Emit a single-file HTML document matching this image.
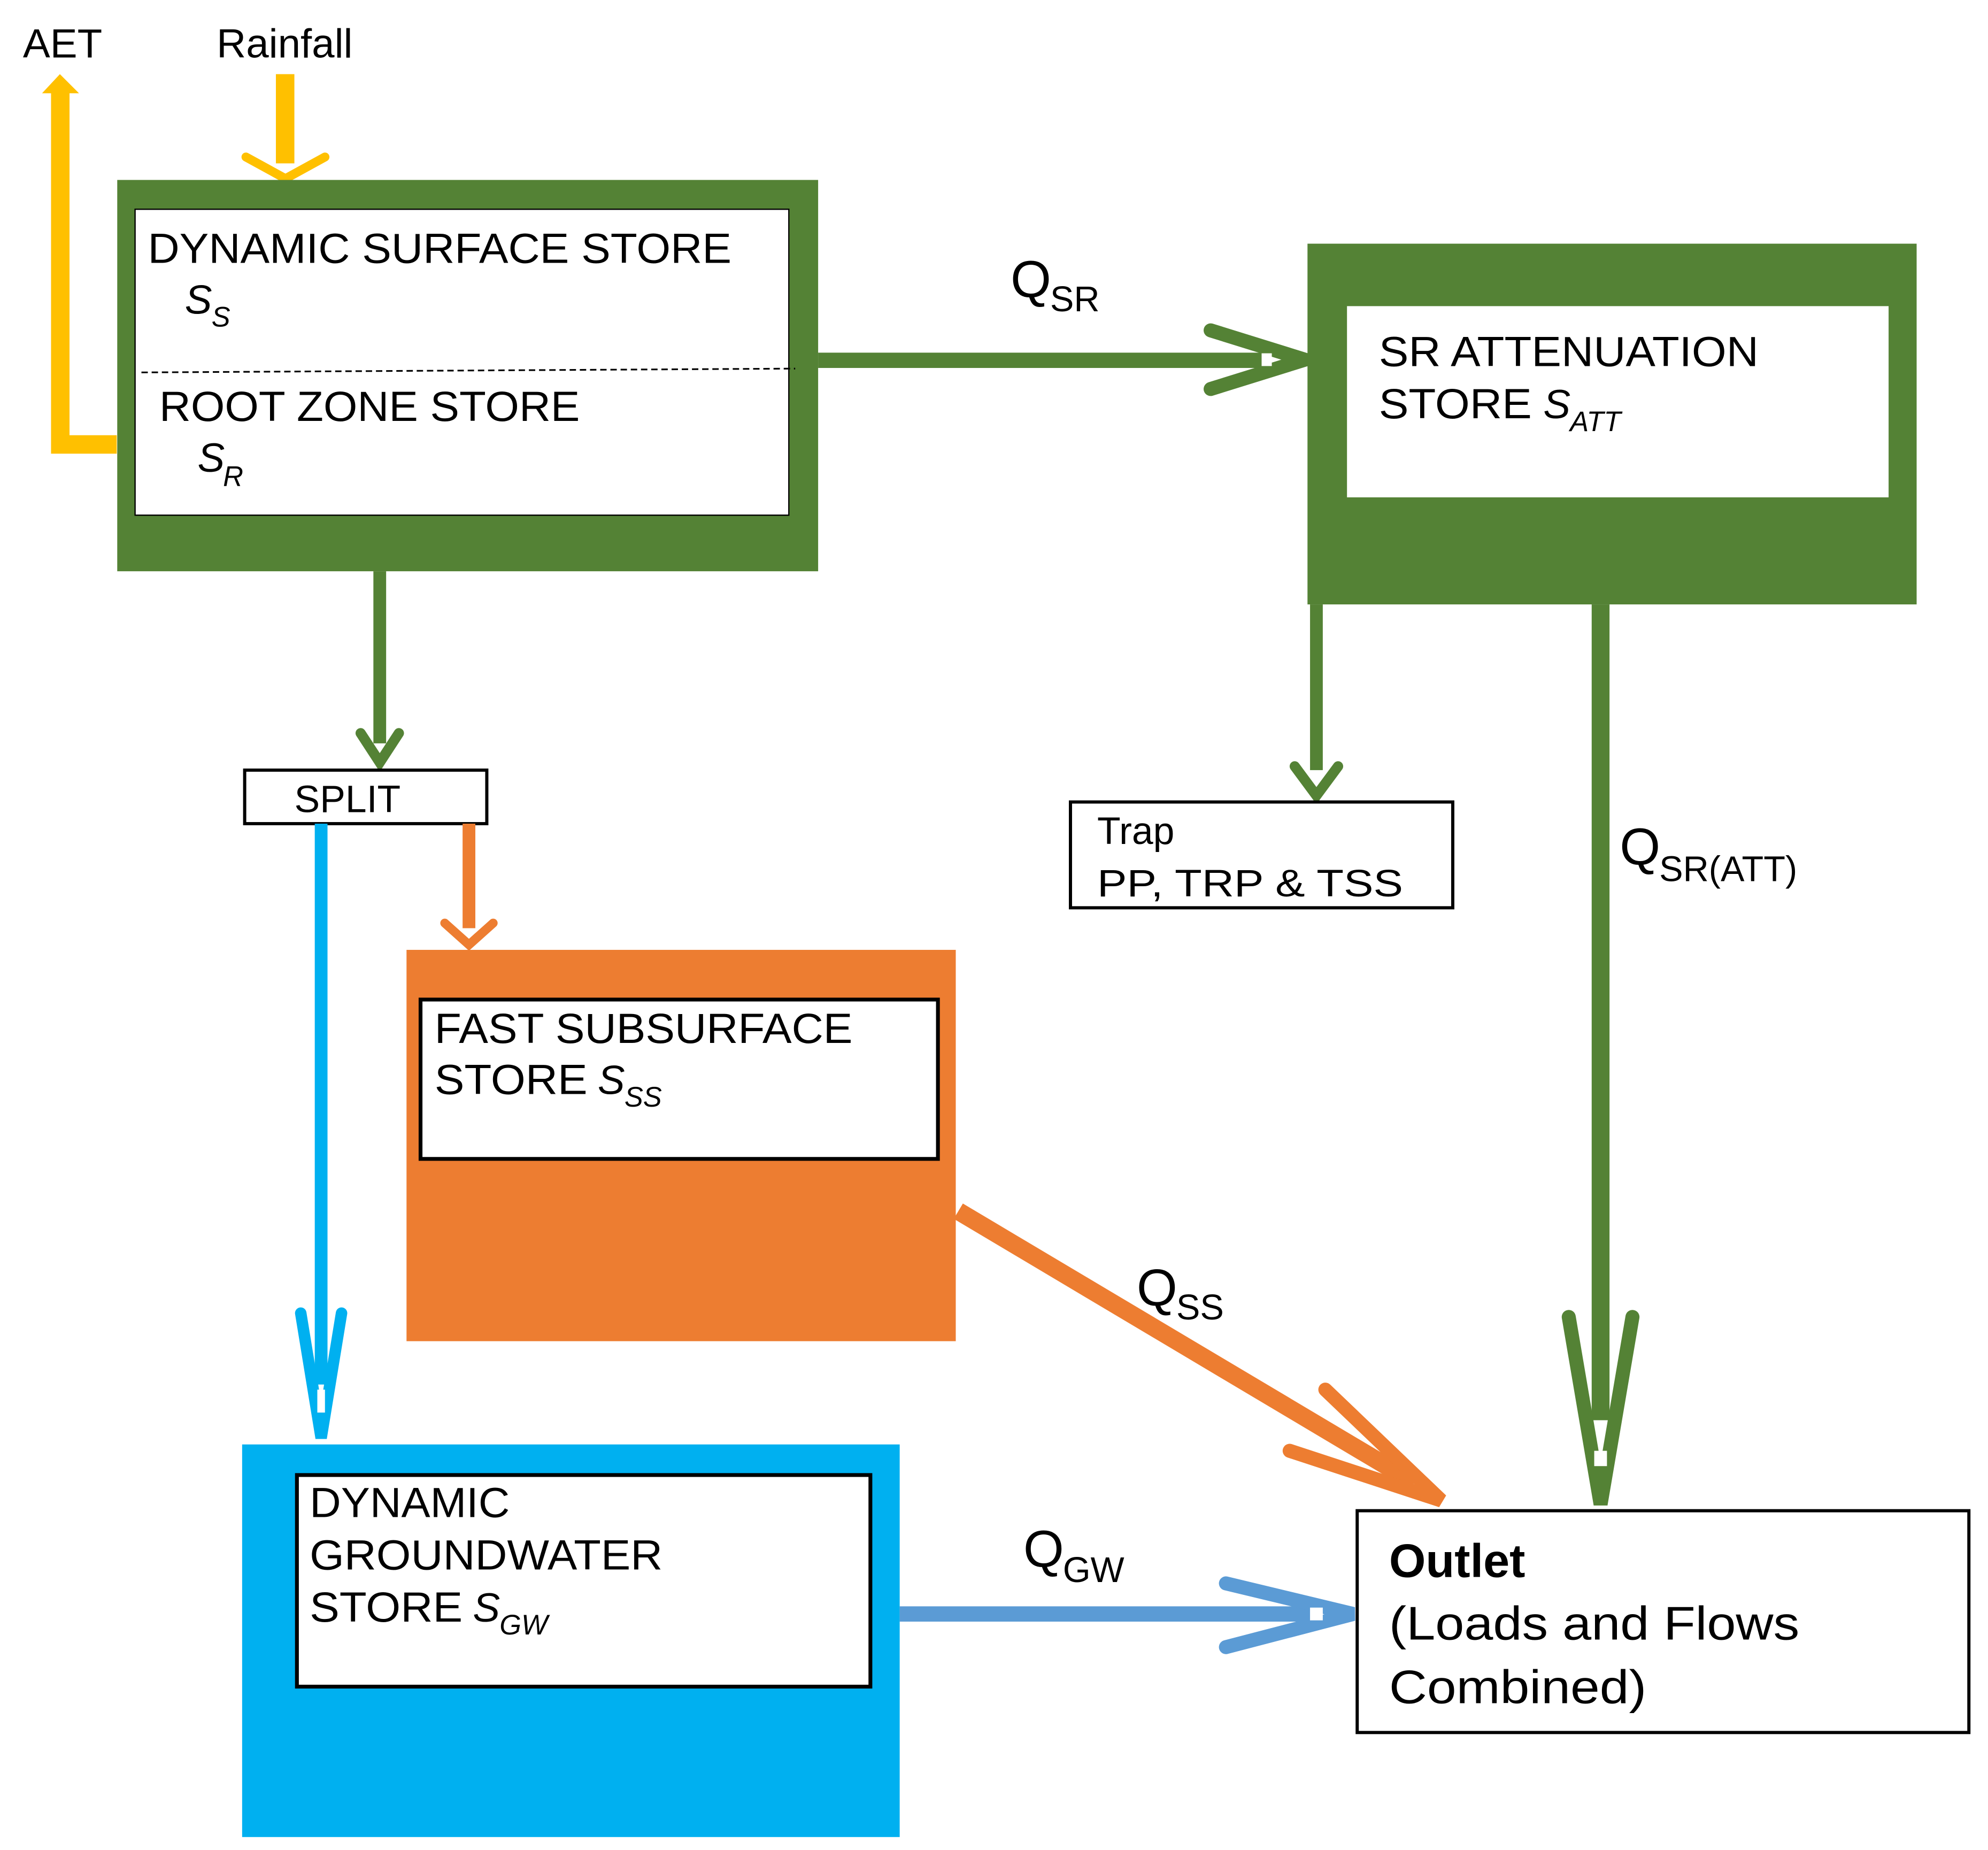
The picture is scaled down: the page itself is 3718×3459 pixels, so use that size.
<!DOCTYPE html>
<html><head><meta charset="utf-8"><style>
html,body{margin:0;padding:0;background:#fff}
svg{display:block}
text{font-family:"Liberation Sans",Arial,sans-serif;fill:#000}
</style></head><body>
<svg width="3718" height="3459" viewBox="0 0 1560 1451" xmlns="http://www.w3.org/2000/svg">
<rect width="1560" height="1451" fill="#fff"/>

<text x="18" y="45" font-size="32">AET</text>
<text x="170" y="45" font-size="32">Rainfall</text>

<path d="M91.6,348.5 H47.3 V72" fill="none" stroke="#FFC000" stroke-width="14.5"/>
<polygon points="47,58 33,73 62,73" fill="#FFC000"/>

<rect x="216.5" y="58" width="14.5" height="70" fill="#FFC000"/>
<polyline points="193,123 224,140 255,123" fill="none" stroke="#FFC000" stroke-width="7" stroke-linecap="round" stroke-linejoin="miter"/>

<rect x="92" y="141" width="550" height="307" fill="#548235"/>
<rect x="106" y="164" width="513" height="240" fill="#fff" stroke="#000" stroke-width="1"/>
<line x1="111" y1="292" x2="624" y2="289" stroke="#000" stroke-width="1.3" stroke-dasharray="5,3"/>
<text x="116" y="206" font-size="33" textLength="458" lengthAdjust="spacingAndGlyphs">DYNAMIC SURFACE STORE</text>
<text x="145" y="246" font-size="32" font-style="italic">S</text>
<text x="166" y="256" font-size="22" font-style="italic">S</text>
<text x="125" y="330" font-size="33" textLength="330" lengthAdjust="spacingAndGlyphs">ROOT ZONE STORE</text>
<text x="155" y="370" font-size="32" font-style="italic">S</text>
<text x="175" y="381" font-size="22" font-style="italic">R</text>

<rect x="642" y="276.5" width="350" height="12" fill="#548235"/>
<polyline points="950,259 1024,282 950,305" fill="none" stroke="#548235" stroke-width="11" stroke-linecap="round" stroke-linejoin="miter"/>
<rect x="990" y="277" width="8" height="10" fill="#fff"/>
<text x="793" y="233" font-size="41">Q</text>
<text x="824" y="244" font-size="28">SR</text>

<rect x="1026" y="191" width="478" height="283" fill="#548235"/>
<rect x="1057" y="240" width="425" height="150" fill="#fff"/>
<text x="1082" y="287" font-size="33" textLength="298" lengthAdjust="spacingAndGlyphs">SR ATTENUATION</text>
<text x="1082" y="328" font-size="33" textLength="120" lengthAdjust="spacingAndGlyphs">STORE</text>
<text x="1211" y="328" font-size="32" font-style="italic">S</text>
<text x="1232" y="338" font-size="22" font-style="italic">ATT</text>

<rect x="293" y="448" width="10" height="135" fill="#548235"/>
<polyline points="283,575 298,598 313,575" fill="none" stroke="#548235" stroke-width="8" stroke-linecap="round"/>

<rect x="192" y="604" width="190" height="42" fill="#fff" stroke="#000" stroke-width="2.5"/>
<text x="231" y="637" font-size="30">SPLIT</text>

<rect x="247" y="646" width="10" height="440" fill="#00B0F0"/>
<polyline points="236,1030 252,1128 268,1030" fill="none" stroke="#00B0F0" stroke-width="9" stroke-linecap="round"/>
<rect x="249" y="1090" width="6" height="18" fill="#fff"/>

<rect x="363" y="646" width="10" height="82" fill="#ED7D31"/>
<polyline points="349,724 368,741 387,724" fill="none" stroke="#ED7D31" stroke-width="7" stroke-linecap="round"/>

<rect x="319" y="745" width="431" height="307" fill="#ED7D31"/>
<rect x="330" y="784" width="406" height="125" fill="#fff" stroke="#000" stroke-width="3"/>
<text x="341" y="818" font-size="33" textLength="328" lengthAdjust="spacingAndGlyphs">FAST SUBSURFACE</text>
<text x="341" y="858" font-size="33" textLength="120" lengthAdjust="spacingAndGlyphs">STORE</text>
<text x="469" y="858" font-size="32" font-style="italic">S</text>
<text x="490" y="868" font-size="22" font-style="italic">SS</text>

<line x1="752" y1="950" x2="1110" y2="1163" stroke="#ED7D31" stroke-width="14"/>
<polyline points="1040,1090 1131,1177 1012,1138" fill="none" stroke="#ED7D31" stroke-width="11" stroke-linecap="round" stroke-linejoin="miter"/>
<text x="892" y="1024" font-size="41">Q</text>
<text x="923" y="1035" font-size="28">SS</text>

<rect x="1028" y="474" width="10" height="130" fill="#548235"/>
<polyline points="1016,601 1033,624 1050,601" fill="none" stroke="#548235" stroke-width="8" stroke-linecap="round"/>

<rect x="840" y="629" width="300" height="83" fill="#fff" stroke="#000" stroke-width="2.5"/>
<text x="861" y="662" font-size="30">Trap</text>
<text x="861" y="703" font-size="30" textLength="240" lengthAdjust="spacingAndGlyphs">PP, TRP &amp; TSS</text>

<rect x="1249" y="474" width="14" height="640" fill="#548235"/>
<polyline points="1231,1033 1256,1180 1281,1033" fill="none" stroke="#548235" stroke-width="11" stroke-linecap="round" stroke-linejoin="miter"/>
<rect x="1251" y="1138" width="10" height="12" fill="#fff"/>
<text x="1271" y="678" font-size="41">Q</text>
<text x="1302" y="691" font-size="28">SR(ATT)</text>

<rect x="190" y="1133" width="516" height="308" fill="#00B0F0"/>
<rect x="233" y="1157" width="450" height="166" fill="#fff" stroke="#000" stroke-width="3"/>
<text x="243" y="1190" font-size="33" textLength="157" lengthAdjust="spacingAndGlyphs">DYNAMIC</text>
<text x="243" y="1231" font-size="33" textLength="277" lengthAdjust="spacingAndGlyphs">GROUNDWATER</text>
<text x="243" y="1272" font-size="33" textLength="120" lengthAdjust="spacingAndGlyphs">STORE</text>
<text x="371" y="1272" font-size="32" font-style="italic">S</text>
<text x="392" y="1282" font-size="22" font-style="italic">GW</text>

<rect x="706" y="1260" width="325" height="12" fill="#5B9BD5"/>
<polyline points="962,1242 1062,1266 962,1292" fill="none" stroke="#5B9BD5" stroke-width="11" stroke-linecap="round" stroke-linejoin="miter"/>
<rect x="1028" y="1261" width="10" height="10" fill="#fff"/>
<text x="803" y="1229" font-size="41">Q</text>
<text x="834" y="1241" font-size="28">GW</text>

<rect x="1065" y="1185" width="480" height="174" fill="#fff" stroke="#000" stroke-width="2.5"/>
<text x="1090" y="1237" font-size="37" font-weight="bold">Outlet</text>
<text x="1090" y="1286" font-size="37" textLength="322" lengthAdjust="spacingAndGlyphs">(Loads and Flows</text>
<text x="1090" y="1336" font-size="37" textLength="202" lengthAdjust="spacingAndGlyphs">Combined)</text>
</svg>
</body></html>
